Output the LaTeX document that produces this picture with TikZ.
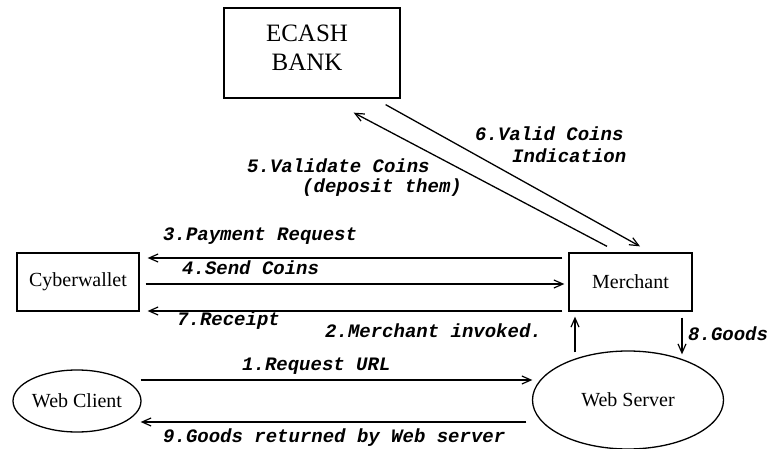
\documentclass[tikz,border=0pt]{standalone}
\usepackage{fontspec}
\setmainfont{Liberation Serif}
\newfontfamily\lblfont{Liberation Mono}
\usetikzlibrary{arrows.meta,calc,shapes.geometric}
\begin{document}
\begin{tikzpicture}[x=1pt,y=-1pt,
  boxnode/.style={draw,line width=1.3pt,rectangle,inner sep=0pt,font=\fontsize{20}{22}\selectfont},
  ellnode/.style={draw,line width=1.3pt,ellipse,inner sep=0pt,font=\fontsize{20}{22}\selectfont},
  conn/.style={line width=1.3pt,-{Straight Barb[length=9pt,width=8pt,line width=1.2pt]}},
  lbl/.style={anchor=west,inner sep=0pt,text height=1.5ex,text depth=0.3ex,font=\lblfont\bfseries\itshape\fontsize{19}{21}\selectfont}]
\useasboundingbox (0,0) rectangle (779,449);
% nodes
\node[boxnode,minimum width=176pt,minimum height=90pt] (bank) at (312,53) {};
\node[inner sep=0pt,align=center,font=\fontsize{25}{29}\selectfont] (banktxt) at (307,47.5) {ECASH\\BANK};
\node[boxnode,minimum width=122pt,minimum height=58pt] (wallet) at (78,282) {Cyberwallet};
\node[boxnode,minimum width=123pt,minimum height=58pt] (merchant) at (630.5,282) {Merchant};
\node[ellnode,minimum width=128pt,minimum height=62pt] (client) at (77,401) {Web Client};
\node[ellnode,minimum width=191pt,minimum height=98pt] (server) at (628,400) {Web Server};
% connectors
\draw[conn] ($(merchant.west)+(-6,-24)$) -- ($(wallet.east)+(8,-24)$);
\draw[conn] ($(wallet.east)+(6,2)$) -- ($(merchant.west)+(-4,2)$);
\draw[conn] ($(merchant.west)+(-6,29)$) -- ($(wallet.east)+(8,29)$);
\draw[conn] ($(client.east)+(-1,-21)$) -- ($(server.west)+(0.5,-20)$);
\draw[conn] ($(server.west)+(-5.5,22)$) -- ($(client.east)+(-1,21)$);
\draw[conn] ($(server.north)+(-53,2)$) -- ($(merchant.south)+(-55.5,5)$);
\draw[conn] ($(merchant.south)+(51.5,6)$) -- ($(server.north)+(54,4)$);
\draw[conn] ($(merchant.north)+(-23.5,-6)$) -- ($(bank.south east)+(-47,14)$);
\draw[conn] ($(bank.south east)+(-15,6)$) -- ($(merchant.north)+(9.5,-6)$);
% labels
\node[lbl] (l1) at (242,368) {1.Request URL};
\node[lbl] (l2) at (325,335) {2.Merchant invoked.};
\node[lbl] (l3) at (163,238) {3.Payment Request};
\node[lbl] (l4) at (182,272) {4.Send Coins};
\node[lbl] (l5a) at (247,170) {5.Validate Coins};
\node[lbl] (l5b) at (302,190) {(deposit them)};
\node[lbl] (l6a) at (475,138) {6.Valid Coins};
\node[lbl] (l6b) at (512,160) {Indication};
\node[lbl] (l7) at (177,323) {7.Receipt};
\node[lbl] (l8) at (688,338) {8.Goods};
\node[lbl] (l9) at (163,440) {9.Goods returned by Web server};
\end{tikzpicture}
\end{document}
